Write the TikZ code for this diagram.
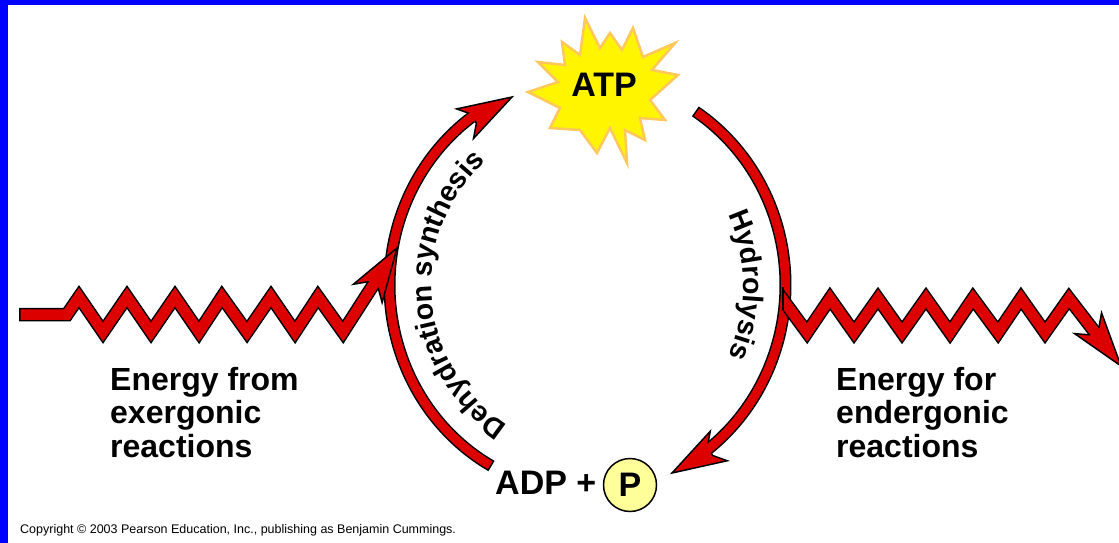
\documentclass[tikz,border=0pt]{standalone}
\usepackage{fontspec}
\setmainfont{Liberation Sans}
\usetikzlibrary{calc,decorations.text}
\definecolor{arrred}{RGB}{221,0,0}
\definecolor{frameblue}{RGB}{0,0,255}
\definecolor{staryellow}{RGB}{255,245,0}
\definecolor{starorange}{RGB}{255,200,90}
\definecolor{pyellow}{RGB}{255,255,153}
\newcommand\lblfont{\fontsize{32}{38}\selectfont\bfseries}
\newcommand\bigfont{\fontsize{34}{40}\selectfont\bfseries}
\newcommand\arcfont{\fontsize{28.5}{30}\selectfont\bfseries}
\newcommand\ahead[4]{\filldraw[headst] (#1) -- ($(#1)!56.6pt!17.5:(#2)$) -- ($(#1)!#4pt!#3:(#2)$) -- ($(#1)!#4pt!-#3:(#2)$) -- ($(#1)!56.6pt!-17.5:(#2)$) -- cycle;}
\begin{document}
\begin{tikzpicture}[x=1pt,y=-1pt,
 zzout/.style={line width=13.5pt, draw=black, line join=miter, miter limit=10},
 zzin/.style={line width=10.5pt, draw=arrred, line join=miter, miter limit=10},
 arcout/.style={line width=12pt, draw=black, line join=round},
 arcin/.style={line width=9pt, draw=arrred, line join=round},
 headst/.style={fill=arrred, draw=black, line width=1.5pt, line join=miter},
 lbl/.style={font=\lblfont, inner sep=0pt, anchor=base west},
]
\useasboundingbox (0,0) rectangle (1119,543);
\fill[white] (0,0) rectangle (1119,543);
\fill[frameblue] (0,0) rectangle (1119,5);
\fill[frameblue] (0,0) rectangle (8,543);

% star
\filldraw[fill=staryellow, draw=starorange, line width=2.5pt, line join=miter]
 (585,18) -- (600,48) -- (610,33) -- (622,50) -- (633,28) -- (643,57) -- (675,43) -- (652,70)
 -- (678,75) -- (650,100) -- (665,120) -- (640,118) -- (645,140) -- (625,130) -- (627,163)
 -- (610,128) -- (597,153) -- (580,130) -- (550,128) -- (560,108) -- (528,92) -- (558,82)
 -- (538,62) -- (565,65) -- (562,42) -- (580,55) -- cycle;
\node[font=\bigfont, inner sep=0pt] (atp) at (604,85) {ATP};

% left arc (dehydration synthesis)
\def\ellarc#1#2{plot[domain=#1:#2, samples=90] ({587.5+198*cos(\x)},{285+207*sin(\x)})}
\coordinate (T3) at (512,97);
\coordinate (S3) at (468.6,121.7);
\draw[arcout] \ellarc{119}{234};
\ahead{T3}{S3}{6.8}{44.3}
\draw[arcin] \ellarc{119.45}{235.6};

% left zigzag
\def\lzig{(67,314.5) -- (79,297) -- (103,332) -- (127,297) -- (151,332) -- (175,297) -- (199,332) -- (222,297) -- (247,332) -- (271,297) -- (295,332) -- (318,297) -- (343,332)}
\coordinate (T1) at (397,248);
\coordinate (S1) at (343,332);
\draw[zzout] (19,314.5) -- \lzig -- ($(T1)!44pt!(S1)$);
\ahead{T1}{S1}{7.8}{44.4}
\draw[zzin] (20.5,314.5) -- \lzig -- ($(T1)!40pt!(S1)$);

% right arc (hydrolysis)
\coordinate (T4) at (672,473);
\coordinate (S4) at (715.3,448);
\draw[arcout] \ellarc{-57}{52.3};
\ahead{T4}{S4}{6.8}{44.3}
\draw[arcin] \ellarc{-56.55}{53.5};

% right zigzag
\def\rzig{(782,298.5) -- (807,332.5) -- (830,298.5) -- (854,332.5) -- (878,298.5) -- (902,332.5) -- (926,298.5) -- (950,332.5) -- (973,298.5) -- (998,332.5) -- (1021,298.5) -- (1045,332.5) -- (1069,298.5)}
\coordinate (T2) at (1121,366);
\coordinate (S2) at (1069,298.5);
\begin{scope}
\clip (782,0) rectangle (1119,543);
\draw[zzout] (770,282.2) -- \rzig -- ($(T2)!44pt!(S2)$);
\ahead{T2}{S2}{7.8}{44.4}
\draw[zzin] (770,282.2) -- \rzig -- ($(T2)!40pt!(S2)$);
\end{scope}
\draw[black, line width=1.5pt] (782.75,287.1) -- (782.75,309.9);

% arc texts
\path[decorate, decoration={text along path, text={|\arcfont|Dehydration synthesis}, text align=center}]
 plot[domain=104:246, samples=100] ({587.5+156*cos(\x)},{285+163*sin(\x)});
\path[decorate, decoration={text along path, text={|\arcfont|Hydrolysis}, text align=center}]
 plot[domain=-70:70, samples=100] ({587.5+156*cos(\x)},{285+163*sin(\x)});

% labels
\node[lbl] (ex1) at (110,390) {Energy from};
\node[lbl] (ex2) at (110,423.5) {exergonic};
\node[lbl] (ex3) at (110,457) {reactions};
\node[lbl] (en1) at (836,390) {Energy for};
\node[lbl] (en2) at (836,423.5) {endergonic};
\node[lbl] (en3) at (836,457) {reactions};

\node[font=\bigfont, inner sep=0pt, anchor=base west] (adp) at (495,494) {ADP +};
\node[circle, draw=black, fill=pyellow, line width=1.5pt, minimum size=53pt, inner sep=0pt, font=\bigfont] (pi) at (630,485) {P};

\node[font=\fontsize{12.5}{14}\selectfont, inner sep=0pt, anchor=base west] (copy) at (20,533) {Copyright © 2003 Pearson Education, Inc., publishing as Benjamin Cummings.};
\end{tikzpicture}
\end{document}
